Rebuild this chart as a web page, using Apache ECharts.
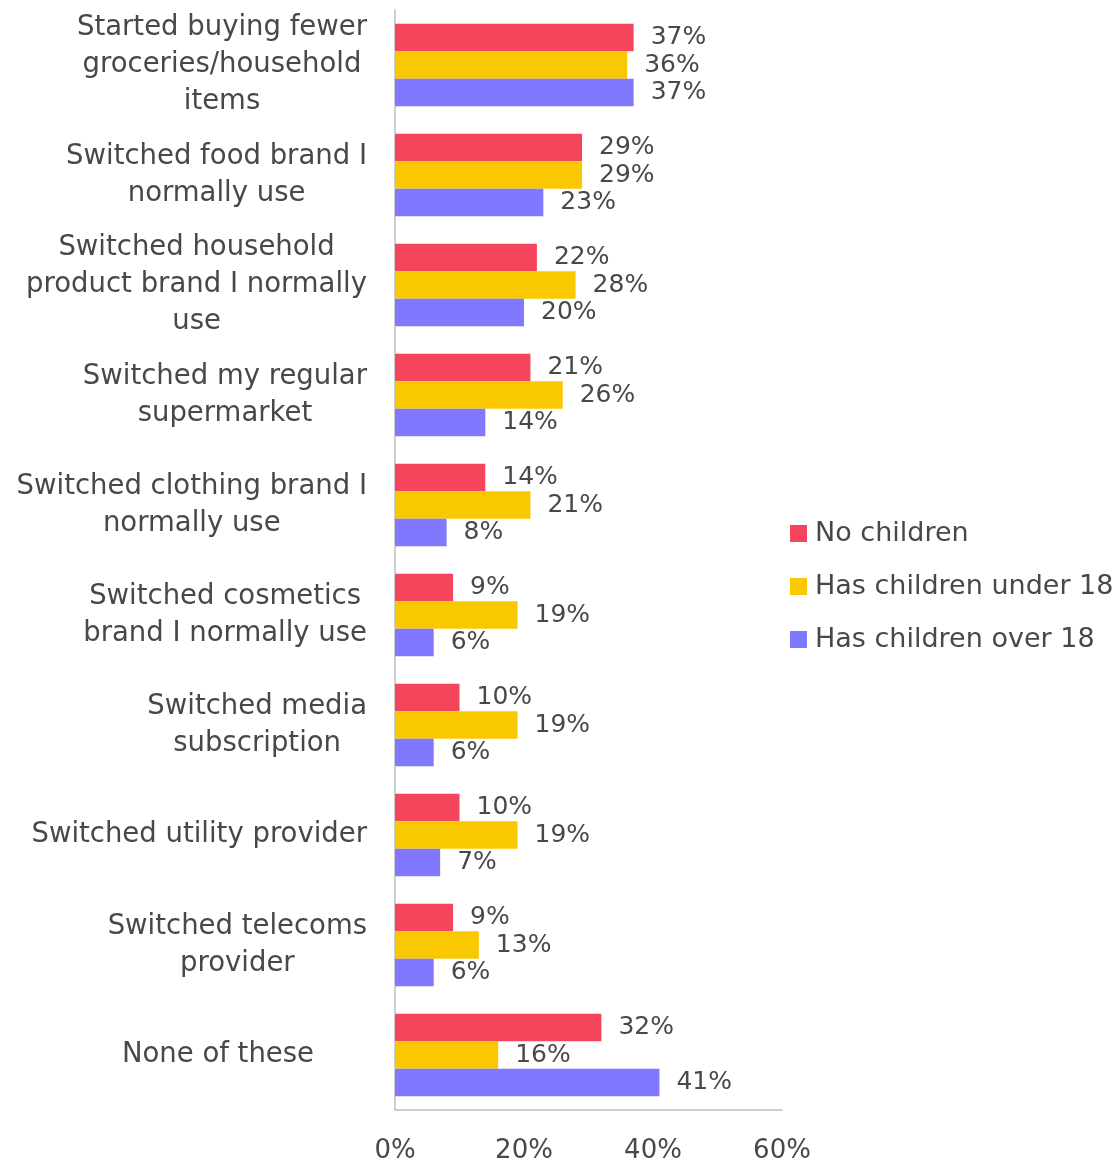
<!DOCTYPE html>
<html>
<head>
<meta charset="utf-8">
<script src="https://cdn.jsdelivr.net/npm/echarts@6/dist/echarts.min.js"></script>
<style>
  html, body { margin: 0; padding: 0; background: #ffffff; }
  #chart { width: 1118px; height: 1164px; }
</style>
</head>
<body>
<div id="chart"></div>
<script>
// Survey answers, listed top to bottom
const categories = [
  'Started buying fewer\ngroceries/household\nitems',
  'Switched food brand I\nnormally use',
  'Switched household\nproduct brand I normally\nuse',
  'Switched my regular\nsupermarket',
  'Switched clothing brand I\nnormally use',
  'Switched cosmetics\nbrand I normally use',
  'Switched media\nsubscription',
  'Switched utility provider',
  'Switched telecoms\nprovider',
  'None of these'
];

const seriesNames = ['No children', 'Has children under 18', 'Has children over 18'];

// Share of respondents (%)
const noChildren      = [37, 29, 22, 21, 14, 9, 10, 10, 9, 32];
const childrenUnder18 = [36, 29, 28, 26, 21, 19, 19, 19, 13, 16];
const childrenOver18  = [37, 23, 20, 14, 8, 6, 6, 7, 6, 41];

const xTicks = [0, 20, 40, 60];

const colors = ['#F5455C', '#FAC800', '#8078FF'];
const textColor = '#484848';
const fontFamily = '"DejaVu Sans", sans-serif';

const chart = echarts.init(document.getElementById('chart'));

function makeSeries(name, values, color) {
  return {
    name: name,
    type: 'bar',
    data: values,
    barGap: '0%',
    barCategoryGap: '25%',
    itemStyle: { color: color },
    label: {
      show: true,
      position: 'right',
      distance: 17,
      formatter: '{c}%',
      color: textColor,
      fontSize: 25,
      fontFamily: fontFamily
    }
  };
}

const catStyle = { align: 'center', color: textColor, fontSize: 27.5, lineHeight: 37, fontFamily: fontFamily };

chart.setOption({
  backgroundColor: '#ffffff',
  animation: false,
  textStyle: { fontFamily: fontFamily },
  grid: { left: 395, right: 336, top: 10, bottom: 53, containLabel: false },
  legend: {
    orient: 'vertical',
    left: 785,
    top: 515,
    itemWidth: 17,
    itemHeight: 17,
    itemGap: 26,
    icon: 'rect',
    textStyle: { color: textColor, fontSize: 27, fontFamily: fontFamily, padding: [0, 0, 0, 3] },
    data: seriesNames
  },
  xAxis: {
    type: 'value',
    min: xTicks[0],
    max: xTicks[xTicks.length - 1],
    interval: 20,
    axisLine: { show: true, lineStyle: { color: '#bfbfbf', width: 1.5 } },
    axisTick: { show: false },
    splitLine: { show: false },
    axisLabel: {
      formatter: '{value}%',
      color: textColor,
      fontSize: 26,
      margin: 28,
      fontFamily: fontFamily
    }
  },
  yAxis: {
    type: 'category',
    inverse: true,
    data: categories,
    axisLine: { show: true, lineStyle: { color: '#bfbfbf', width: 1.5 } },
    axisTick: { show: false },
    axisLabel: {
      margin: 28,
      color: textColor,
      fontSize: 27.5,
      lineHeight: 37,
      fontFamily: fontFamily,
      formatter: function (value) {
        const style = value === 'None of these' ? 'n' : 'c';
        return value.split('\n').map(function (line) {
          return '{' + style + '|' + line + '}';
        }).join('\n');
      },
      rich: {
        c: catStyle,
        n: Object.assign({}, catStyle, { padding: [0, 53, 0, 0] })
      }
    }
  },
  series: [
    makeSeries(seriesNames[0], noChildren, colors[0]),
    makeSeries(seriesNames[1], childrenUnder18, colors[1]),
    makeSeries(seriesNames[2], childrenOver18, colors[2])
  ]
});
</script>
</body>
</html>
